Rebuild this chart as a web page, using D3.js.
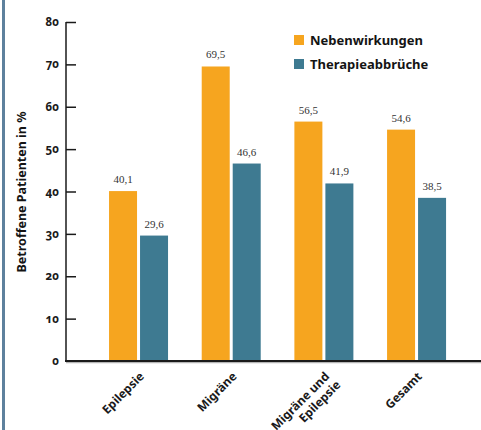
<!DOCTYPE html>
<html>
<head>
<meta charset="utf-8">
<script src="https://cdn.jsdelivr.net/npm/d3@7"></script>
<style>
  html, body { margin: 0; padding: 0; background: #fff; }
  svg { display: block; }
  .tick-label { font-family: "Noto Sans", sans-serif; font-weight: 700; font-size: 11.5px; fill: #1a1a1a; font-variant-numeric: oldstyle-nums; }
  .cat-label { font-family: "Noto Sans", sans-serif; font-weight: 700; font-size: 12px; fill: #1a1a1a; }
  .val-label { font-family: "Liberation Serif", serif; font-size: 11px; fill: #333; }
  .legend-label { font-family: "Noto Sans", sans-serif; font-weight: 700; font-size: 13px; fill: #141414; }
  .axis-title { font-family: "Noto Sans", sans-serif; font-weight: 700; font-size: 12.5px; fill: #141414; }
</style>
</head>
<body>
<script>
// Anteil betroffener Patienten je Gruppe
const categories = [["Epilepsie"], ["Migräne"], ["Migräne und", "Epilepsie"], ["Gesamt"]];
const seriesNames = ["Nebenwirkungen", "Therapieabbrüche"];
const nebenwirkungen = [40.1, 69.5, 56.5, 54.6];
const therapieabbrueche = [29.6, 46.6, 41.9, 38.5];
const yTicks = [0, 10, 20, 30, 40, 50, 60, 70, 80];
const colors = ["#f6a51f", "#3e7a91"];

const W = 481, H = 430;
const svg = d3.select("body").append("svg").attr("width", W).attr("height", H);

// Rahmenlinie links
svg.append("rect").attr("x", 2).attr("y", 0).attr("width", 3).attr("height", H).attr("fill", "#5e819d");

const y = d3.scaleLinear().domain([0, 80]).range([361, 22]);
const x = d3.scaleBand().domain(d3.range(categories.length)).range([92.2, 462.9]);
const barW = 28, gap = 3;

const series = [nebenwirkungen, therapieabbrueche];

// Balken mit Wertbeschriftung
series.forEach((vals, si) => {
  const g = svg.append("g");
  vals.forEach((v, i) => {
    const cx = x(i) + x.bandwidth() / 2;
    const bx = si === 0 ? cx - gap / 2 - barW : cx + gap / 2;
    g.append("rect")
      .attr("x", bx).attr("y", y(v))
      .attr("width", barW).attr("height", y(0) - y(v))
      .attr("fill", colors[si]);
    g.append("text").attr("class", "val-label")
      .attr("x", bx + barW / 2).attr("y", y(v) - 8)
      .attr("text-anchor", "middle")
      .text(String(v).replace(".", ","));
  });
});

// y-Achse
const yAxis = d3.axisRight(y).tickValues(yTicks).tickSize(10).tickFormat("");
const ya = svg.append("g").attr("transform", "translate(66,0)").call(yAxis);
ya.select(".domain").remove();
ya.selectAll(".tick line").attr("stroke", "#1a1a1a").attr("stroke-width", 1.5);
svg.append("line").attr("x1", 66).attr("x2", 66).attr("y1", y(80)).attr("y2", y(0))
  .attr("stroke", "#1a1a1a").attr("stroke-width", 1.5);
yTicks.forEach(t => {
  svg.append("text").attr("class", "tick-label")
    .attr("x", 59).attr("y", y(t)).attr("dy", "0.35em")
    .attr("text-anchor", "end").text(t);
});

// x-Achse
svg.append("line").attr("x1", 66).attr("x2", 481).attr("y1", y(0) + 1.5).attr("y2", y(0) + 1.5)
  .attr("stroke", "#b5b5b5").attr("stroke-width", 1.5);
svg.append("line").attr("x1", 65).attr("x2", 481).attr("y1", y(0)).attr("y2", y(0))
  .attr("stroke", "#1a1a1a").attr("stroke-width", 2);

// Kategorienbeschriftung, um 45° gedreht
categories.forEach((lines, i) => {
  const cx = x(i) + x.bandwidth() / 2;
  const t = svg.append("text").attr("class", "cat-label")
    .attr("text-anchor", "end")
    .attr("transform", `translate(${cx + 2},${y(0) + 12}) rotate(-45)`);
  lines.forEach((ln, li) => {
    t.append("tspan").attr("x", li === 0 ? 0 : 2).attr("dy", li === 0 ? 6 : 14).text(ln);
  });
});

// Achsentitel
svg.append("text").attr("class", "axis-title")
  .attr("transform", `translate(26,192) rotate(-90)`)
  .attr("text-anchor", "middle")
  .text("Betroffene Patienten in %");

// Legende
seriesNames.forEach((name, i) => {
  const ly = 35 + i * 24;
  svg.append("rect").attr("x", 294).attr("y", ly).attr("width", 10).attr("height", 10).attr("fill", colors[i]);
  svg.append("text").attr("class", "legend-label").attr("x", 310).attr("y", ly + 10).text(name);
});
</script>
</body>
</html>
